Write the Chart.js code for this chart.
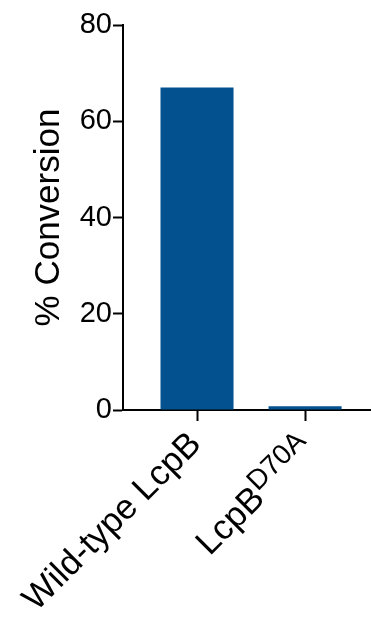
<!DOCTYPE html>
<html>
<head>
<meta charset="utf-8">
<script src="https://cdn.jsdelivr.net/npm/chart.js@4.4.1/dist/chart.umd.min.js"></script>
<style>
  html, body { margin: 0; padding: 0; background: #fff; }
  #wrap { position: relative; width: 371px; height: 619px; }
</style>
</head>
<body>
<div id="wrap"><canvas id="lcpbChart"></canvas></div>
<script>
// Categories (main text + superscript part)
const categories = ['Wild-type LcpB', 'LcpB'];
const superscripts = ['', 'D70A'];

// % conversion per enzyme
const conversion = [67, 0.8];

// y axis ticks
const yTicks = [0, 20, 40, 60, 80];

const FONT = '"Liberation Sans", Arial, Helvetica, sans-serif';

// Draw the rotated category labels ourselves so the superscript works
const categoryLabels = {
  id: 'categoryLabels',
  afterDraw(chart) {
    const ctx = chart.ctx;
    const xs = chart.scales.x;
    const bottom = chart.chartArea.bottom;
    const mainSize = 35, supSize = 28, raise = 12;
    const capMain = mainSize * 0.716, capSup = supSize * 0.716;
    categories.forEach(function(label, i) {
      const sup = superscripts[i];
      const px = xs.getPixelForValue(i);
      // push text down so the highest glyph top sits on the anchor
      const shift = sup ? Math.max(0, raise + capSup - capMain) : 0;
      ctx.save();
      ctx.fillStyle = '#000';
      ctx.translate(px - 12, bottom + 18);
      ctx.rotate(-Math.PI / 4);
      ctx.textAlign = 'left';
      ctx.textBaseline = 'alphabetic';
      ctx.font = mainSize + 'px ' + FONT;
      const w1 = ctx.measureText(label).width;
      ctx.font = supSize + 'px ' + FONT;
      const w2 = sup ? ctx.measureText(sup).width : 0;
      const x0 = -(w1 + w2);
      ctx.font = mainSize + 'px ' + FONT;
      ctx.fillText(label, x0, capMain + shift);
      if (sup) {
        ctx.font = supSize + 'px ' + FONT;
        ctx.fillText(sup, x0 + w1, capMain - raise + shift);
      }
      ctx.restore();
    });
  }
};

const ctx = document.getElementById('lcpbChart').getContext('2d');

new Chart(ctx, {
  type: 'bar',
  data: {
    datasets: [{
      label: '% Conversion',
      data: conversion.map(function(v, i) { return { x: i, y: v }; }),
      backgroundColor: '#03528f',
      borderWidth: 0,
      barPercentage: 0.676,
      categoryPercentage: 1
    }]
  },
  options: {
    responsive: true,
    maintainAspectRatio: false,
    animation: false,
    layout: { padding: { top: 25, right: 0, bottom: 0, left: 0 } },
    plugins: {
      legend: { display: false },
      tooltip: { enabled: false }
    },
    scales: {
      x: {
        type: 'linear',
        min: -0.685,
        max: 1.61,
        offset: false,
        afterBuildTicks: function(scale) {
          scale.ticks = categories.map(function(c, i) { return { value: i }; });
        },
        afterFit: function(scale) { scale.height = 209; },
        ticks: { display: false },
        grid: {
          offset: false,
          drawOnChartArea: false,
          drawTicks: true,
          tickLength: 11,
          tickWidth: 2,
          tickColor: '#000'
        },
        border: { display: true, color: '#000', width: 2 }
      },
      y: {
        min: 0,
        max: 80,
        afterBuildTicks: function(scale) {
          scale.ticks = yTicks.map(function(v) { return { value: v }; });
        },
        afterFit: function(scale) { scale.width = 123; },
        ticks: {
          color: '#000',
          padding: 1,
          font: { family: FONT, size: 29 }
        },
        grid: {
          drawOnChartArea: false,
          drawTicks: true,
          tickLength: 10,
          tickWidth: 2,
          tickColor: '#000'
        },
        border: { display: true, color: '#000', width: 2 },
        title: {
          display: true,
          text: '% Conversion',
          color: '#000',
          font: { family: FONT, size: 35 },
          padding: { top: 28, bottom: 0 }
        }
      }
    }
  },
  plugins: [categoryLabels]
});
</script>
</body>
</html>
